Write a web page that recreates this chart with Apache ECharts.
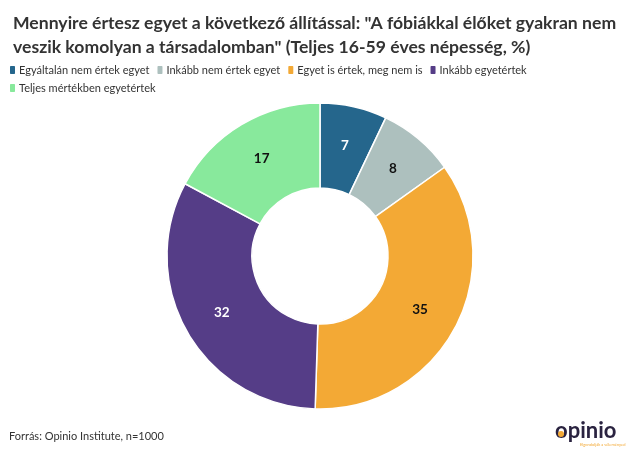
<!DOCTYPE html>
<html><head><meta charset="utf-8">
<script src="https://cdn.jsdelivr.net/npm/echarts@6/dist/echarts.min.js"></script>
<style>html,body{margin:0;padding:0;background:#fff}#c{width:640px;height:462px}</style>
</head><body><div id="c"></div>
<script>
const categories = ["Egyáltalán nem értek egyet", "Inkább nem értek egyet", "Egyet is értek, meg nem is", "Inkább egyetértek", "Teljes mértékben egyetértek"];
const values = [7, 8, 35, 32, 17];
const colors = ["#25668c", "#adc0be", "#f3a935", "#553d87", "#88e99c"];
const labelColors = ["#ffffff", "#111111", "#111111", "#ffffff", "#111111"];
const font = "Lato, 'Noto Sans', sans-serif";
const chart = echarts.init(document.getElementById('c'), null, {renderer: 'canvas'});
chart.setOption({
  animation: false,
  title: {
    text: 'Mennyire értesz egyet a következő állítással: "A fóbiákkal élőket gyakran nem\nveszik komolyan a társadalomban" (Teljes 16-59 éves népesség, %)',
    left: 8, top: 6,
    textStyle: {fontFamily: font, fontWeight: 'bold', fontSize: 17.6, color: '#333', lineHeight: 24}
  },
  legend: {
    left: 8, top: 64, width: 560, itemWidth: 7, itemHeight: 10, itemGap: 6,
    padding: 0,
    icon: 'roundRect',
    textStyle: {fontFamily: font, fontSize: 11, color: '#333', lineHeight: 10, padding: [0, 0, 0, -2]},
    data: categories
  },
  graphic: [
    {type: 'text', left: 9, top: 431, style: {text: 'Forrás: Opinio Institute, n=1000', font: '11px ' + font, fill: '#333'}},
    {type: 'text', left: 555, top: 420, style: {text: 'opinio', font: 'bold 22px ' + font, fill: '#2a2340'}},
    {type: 'text', left: 580, top: 443, style: {text: 'Elgondolják a véleményed', font: '4px ' + font, fill: '#f3a935'}},
    {type: 'circle', shape: {cx: 561, cy: 434, r: 3}, style: {fill: '#f3a935'}}
  ],
  series: [{
    type: 'pie',
    center: [320, 256],
    radius: [68, 153],
    startAngle: 90,
    clockwise: true,
    avoidLabelOverlap: false,
    itemStyle: {borderColor: '#fff', borderWidth: 1.5},
    label: {position: 'inside', fontFamily: font, fontWeight: 'bold', fontSize: 13.5, formatter: '{c}'},
    labelLine: {show: false},
    data: categories.map((n, i) => ({name: n, value: values[i], itemStyle: {color: colors[i]}, label: {color: labelColors[i]}}))
  }]
});
</script></body></html>
